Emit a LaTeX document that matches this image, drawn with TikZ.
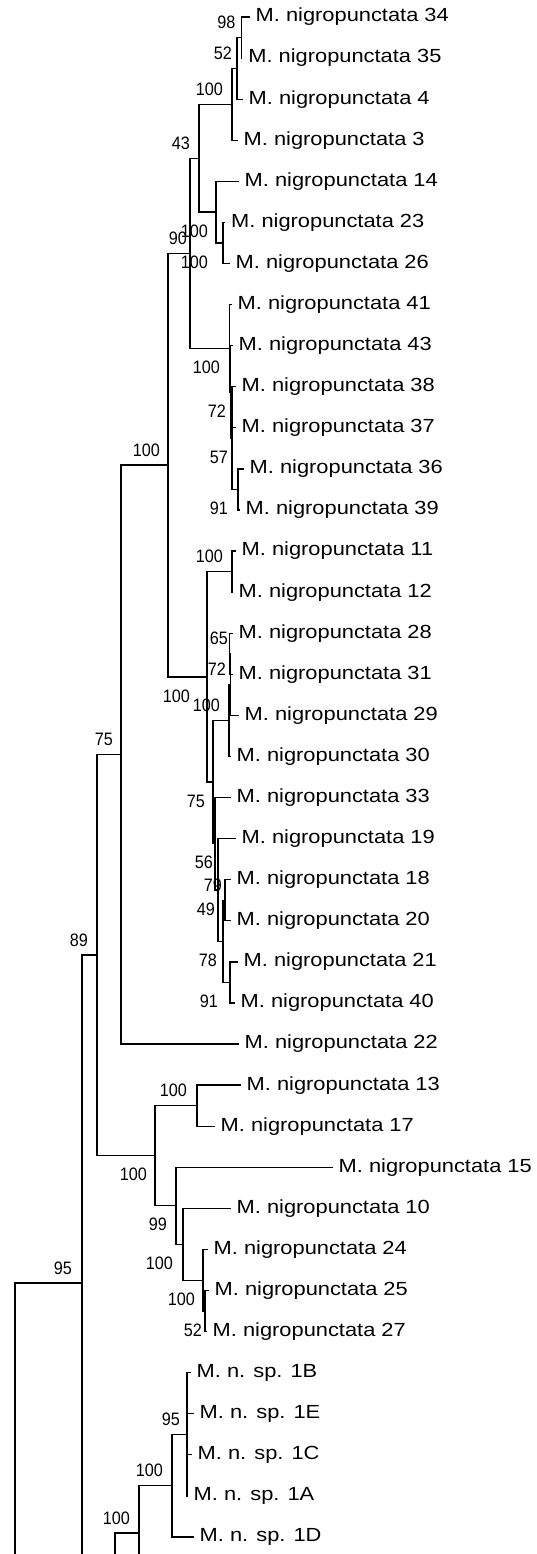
\documentclass[tikz,border=0pt]{standalone}
\usepackage{fontspec}
\setmainfont{Liberation Sans}
\newfontfamily\taxonfont[FakeStretch=1.15]{Liberation Sans}
\newfontfamily\supportfont[FakeStretch=0.9]{Liberation Sans}
\usetikzlibrary{positioning}

\begin{document}
\begin{tikzpicture}[
    x=1pt, y=-1pt,
    branch/.style={line width=1.3pt, line cap=rect},
    taxon/.style={font=\taxonfont\fontsize{19}{19}\selectfont, inner sep=0pt},
    boot/.style={font=\supportfont\fontsize{18}{18}\selectfont, inner sep=0pt, anchor=east}
]
\useasboundingbox (0,0) rectangle (536,1554);
\clip (0,0) rectangle (536,1554);

% taxa: row / tip x / name / text
\foreach \i/\tx/\id/\txt in {
    0/249/m34/M. nigropunctata 34, 1/241.7/m35/M. nigropunctata 35,
    2/242/m4/M. nigropunctata 4, 3/237/m3/M. nigropunctata 3,
    4/238/m14/M. nigropunctata 14, 5/224.5/m23/M. nigropunctata 23,
    6/229/m26/M. nigropunctata 26, 7/231/m41/M. nigropunctata 41,
    8/232/m43/M. nigropunctata 43, 9/235/m38/M. nigropunctata 38,
    10/235/m37/M. nigropunctata 37, 11/243/m36/M. nigropunctata 36,
    12/239/m39/M. nigropunctata 39, 13/235/m11/M. nigropunctata 11,
    14/232/m12/M. nigropunctata 12, 15/232/m28/M. nigropunctata 28,
    16/232/m31/M. nigropunctata 31, 17/238/m29/M. nigropunctata 29,
    18/230/m30/M. nigropunctata 30, 19/230/m33/M. nigropunctata 33,
    20/235/m19/M. nigropunctata 19, 21/230/m18/M. nigropunctata 18,
    22/230/m20/M. nigropunctata 20, 23/237/m21/M. nigropunctata 21,
    24/234/m40/M. nigropunctata 40, 25/238/m22/M. nigropunctata 22,
    26/240/m13/M. nigropunctata 13, 27/214/m17/M. nigropunctata 17,
    28/332/m15/M. nigropunctata 15, 29/230/m10/M. nigropunctata 10,
    30/207/m24/M. nigropunctata 24, 31/208/m25/M. nigropunctata 25,
    32/206/m27/M. nigropunctata 27, 33/190/s1B/M. n. sp. 1B,
    34/193/s1E/M. n. sp. 1E, 35/191/s1C/M. n. sp. 1C,
    36/187/s1A/M. n. sp. 1A, 37/193/s1D/M. n. sp. 1D}
{
    \coordinate (t\id) at (\tx, 17+41.08*\i);
    \node[taxon, right=6.5pt of t\id] (\id) {\txt};
}

% internal nodes
\coordinate (k1) at (241.7, 37.5);
\coordinate (k2) at (237, 68.4);
\coordinate (k3) at (232, 104.3);
\coordinate (k4) at (223, 243);
\coordinate (k5) at (216, 212.1);
\coordinate (k6) at (199, 158.2);
\coordinate (kV) at (238, 489.4);
\coordinate (kZ) at (232, 438.1);
\coordinate (kY) at (230.5, 391.9);
\coordinate (kX) at (229.5, 348.2);
\coordinate (k7) at (190, 253.2);
\coordinate (k1112) at (232, 571.6);
\coordinate (kF) at (229.5, 653.7);
\coordinate (kE) at (230.5, 684.6);
\coordinate (kC) at (229, 720.5);
\coordinate (k1820) at (225, 900.2);
\coordinate (k2140) at (230, 982.4);
\coordinate (kP) at (223, 941.3);
\coordinate (kQ) at (218, 890);
\coordinate (kG) at (215, 843.7);
\coordinate (kB) at (213, 782.1);
\coordinate (kA) at (207, 676.9);
\coordinate (k8) at (168, 465);
\coordinate (k9) at (121, 754.5);
\coordinate (k1317) at (197, 1105.6);
\coordinate (k2527) at (205, 1311);
\coordinate (k24) at (203, 1280.2);
\coordinate (k10) at (183, 1244.3);
\coordinate (k15) at (176, 1205.7);
\coordinate (k155) at (155, 1155.7);
\coordinate (k97) at (97, 955.1);
\coordinate (kS4) at (187, 1434.3);
\coordinate (kS3) at (172, 1485.6);
\coordinate (kS2) at (139, 1533);
\coordinate (k82) at (82, 1283);
% below the lower edge
\coordinate (kS1) at (115, 1611);
\coordinate (hS2) at (150, 1580);
\coordinate (hS1) at (135, 1689);
\coordinate (root) at (15, 1900);
\coordinate (hR) at (30, 2517);

\foreach \p/\c in {k1/tm34, k1/tm35, k2/k1, k2/tm4, k3/k2, k3/tm3,
    k4/tm23, k4/tm26, k5/tm14, k5/k4, k6/k3, k6/k5,
    kV/tm36, kV/tm39, kZ/tm38, kZ/tm37, kZ/kV, kY/tm43, kY/kZ,
    kX/tm41, kX/kY, k7/k6, k7/kX,
    k1112/tm11, k1112/tm12, kF/tm28, kF/tm31, kE/kF, kE/tm29,
    kC/kE, kC/tm30, k1820/tm18, k1820/tm20, k2140/tm21, k2140/tm40,
    kP/k1820, kP/k2140, kQ/tm19, kQ/kP, kG/tm33, kG/kQ,
    kB/kC, kB/kG, kA/k1112, kA/kB, k8/k7, k8/kA, k9/k8, k9/tm22,
    k1317/tm13, k1317/tm17, k2527/tm25, k2527/tm27, k24/tm24, k24/k2527,
    k10/tm10, k10/k24, k15/tm15, k15/k10, k155/k1317, k155/k15,
    k97/k9, k97/k155,
    kS4/ts1B, kS4/ts1E, kS4/ts1C, kS4/ts1A, kS3/kS4, kS3/ts1D,
    kS2/kS3, kS2/hS2, kS1/kS2, kS1/hS1, k82/k97, k82/kS1,
    root/k82, root/hR}
    \draw[branch] (\p) |- (\c);

% support values above the stem
\foreach \n/\v/\dx in {k1/98/6, k2/52/5, k3/100/9, k6/43/9, k7/90/3,
    k8/100/8, k1112/100/9, kF/65/1.5, kE/72/4.5, kC/100/9, k1820/79/3,
    k9/75/8, k97/89/9, k1317/100/10, k82/95/10, kS4/95/7, kS3/100/9,
    kS2/100/9}
    \node[boot] (b\n) at ([shift={(-\dx,-15)}]\n) {\v};
% support values below the stem
\foreach \n/\v/\dx in {k5/100/8, k4/100/15, kX/100/9.5, kY/72/4.5,
    kZ/57/4, kV/91/10, kA/100/17, kB/75/8, kG/56/2, kQ/49/3, kP/78/6,
    k2140/91/12, k155/100/8, k15/99/9, k10/100/10, k24/100/8, k2527/52/3}
    \node[boot] (b\n) at ([shift={(-\dx,19)}]\n) {\v};
\end{tikzpicture}
\end{document}
